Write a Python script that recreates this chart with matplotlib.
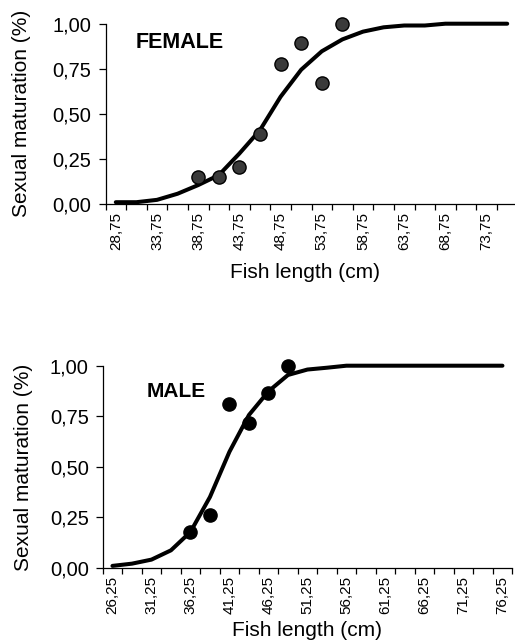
import matplotlib
matplotlib.use("Agg")
import matplotlib.pyplot as plt
from matplotlib.ticker import FixedLocator

plt.rcParams['font.family'] = ['Liberation Sans', 'DejaVu Sans']

# ── data ──
female_len = ["28,75", "31,25", "33,75", "36,25", "38,75", "41,25", "43,75", "46,25",
              "48,75", "51,25", "53,75", "56,25", "58,75", "61,25", "63,75", "66,25",
              "68,75", "71,25", "73,75", "76,25"]
female_fit = [0.01, 0.01, 0.023, 0.057, 0.105, 0.16, 0.28, 0.41, 0.595, 0.745, 0.847,
              0.913, 0.956, 0.98, 0.99, 0.99, 1.0, 1.0, 1.0, 1.0]
female_obs_len = ["38,75", "41,25", "43,75", "46,25", "48,75", "51,25", "53,75", "56,25"]
female_obs = [0.151, 0.151, 0.207, 0.386, 0.775, 0.895, 0.673, 1.0]

male_len = ["26,25", "28,75", "31,25", "33,75", "36,25", "38,75", "41,25", "43,75",
            "46,25", "48,75", "51,25", "53,75", "56,25", "58,75", "61,25", "63,75",
            "66,25", "68,75", "71,25", "73,75", "76,25"]
male_fit = [0.009, 0.02, 0.04, 0.086, 0.177, 0.35, 0.574, 0.756, 0.873, 0.954, 0.981,
            0.99, 1.0, 1.0, 1.0, 1.0, 1.0, 1.0, 1.0, 1.0, 1.0]
male_obs_len = ["36,25", "38,75", "41,25", "43,75", "46,25", "48,75"]
male_obs = [0.177, 0.259, 0.809, 0.715, 0.863, 1.0]

y_ticks = [0, 0.25, 0.5, 0.75, 1.0]
y_labels = ["0,00", "0,25", "0,50", "0,75", "1,00"]

W, H = 515, 644
fig = plt.figure(figsize=(W / 100, H / 100), dpi=100)


def panel(rect, cats, fit, obs_cats, obs, title, title_xy, title_fs, fc, ms):
    ax = fig.add_axes(rect)
    x = list(range(len(cats)))
    ox = [cats.index(c) for c in obs_cats]
    ax.plot(x, fit, color="black", lw=2.9, solid_capstyle="round", clip_on=False, zorder=2)
    ax.plot(ox, obs, ls="none", marker="o", ms=ms, mfc=fc, mec="black", mew=1.0,
            clip_on=False, zorder=3)
    ax.set_xlim(-0.5, len(cats) - 0.5)
    ax.set_ylim(0, 1)
    for s in ["top", "right"]:
        ax.spines[s].set_visible(False)
    for s in ["left", "bottom"]:
        ax.spines[s].set_linewidth(0.9)
    ax.set_yticks(y_ticks)
    ax.set_yticklabels(y_labels, fontsize=14.5)
    ax.tick_params(axis="y", direction="out", length=5, width=0.9, pad=5)
    # category labels every other category, tick marks between categories
    ax.set_xticks(x[::2])
    ax.set_xticklabels(cats[::2], rotation=90, fontsize=11)
    ax.xaxis.set_minor_locator(FixedLocator([i - 0.5 for i in range(len(cats) + 1)]))
    ax.tick_params(axis="x", which="major", length=0, pad=6)
    ax.tick_params(axis="x", which="minor", direction="out", length=4, width=0.9)
    ax.text(title_xy[0], title_xy[1], title, transform=ax.transAxes, fontsize=title_fs,
            fontweight="bold", ha="left", va="center")
    return ax


panel([105.5 / W, 1 - 204 / H, 412 / W, 180.3 / H], female_len, female_fit,
      female_obs_len, female_obs, "FEMALE", (0.074, 0.898), 15.5, "#3a3a3a", 9.5)
panel([102.7 / W, 1 - 567.7 / H, 409.5 / W, 202 / H], male_len, male_fit,
      male_obs_len, male_obs, "MALE", (0.108, 0.87), 15, "black", 9.5)

fig.text(21.7 / W, 1 - 113 / H, "Sexual maturation (%)", rotation=90, fontsize=15,
         ha="center", va="center")
fig.text(304.7 / W, 1 - 273 / H, "Fish length (cm)", fontsize=15, ha="center", va="center")
fig.text(24 / W, 1 - 467.5 / H, "Sexual maturation (%)", rotation=90, fontsize=15,
         ha="center", va="center")
fig.text(306.7 / W, 1 - 630 / H, "Fish length (cm)", fontsize=15, ha="center", va="center")

fig.savefig("out.png", dpi=100)
